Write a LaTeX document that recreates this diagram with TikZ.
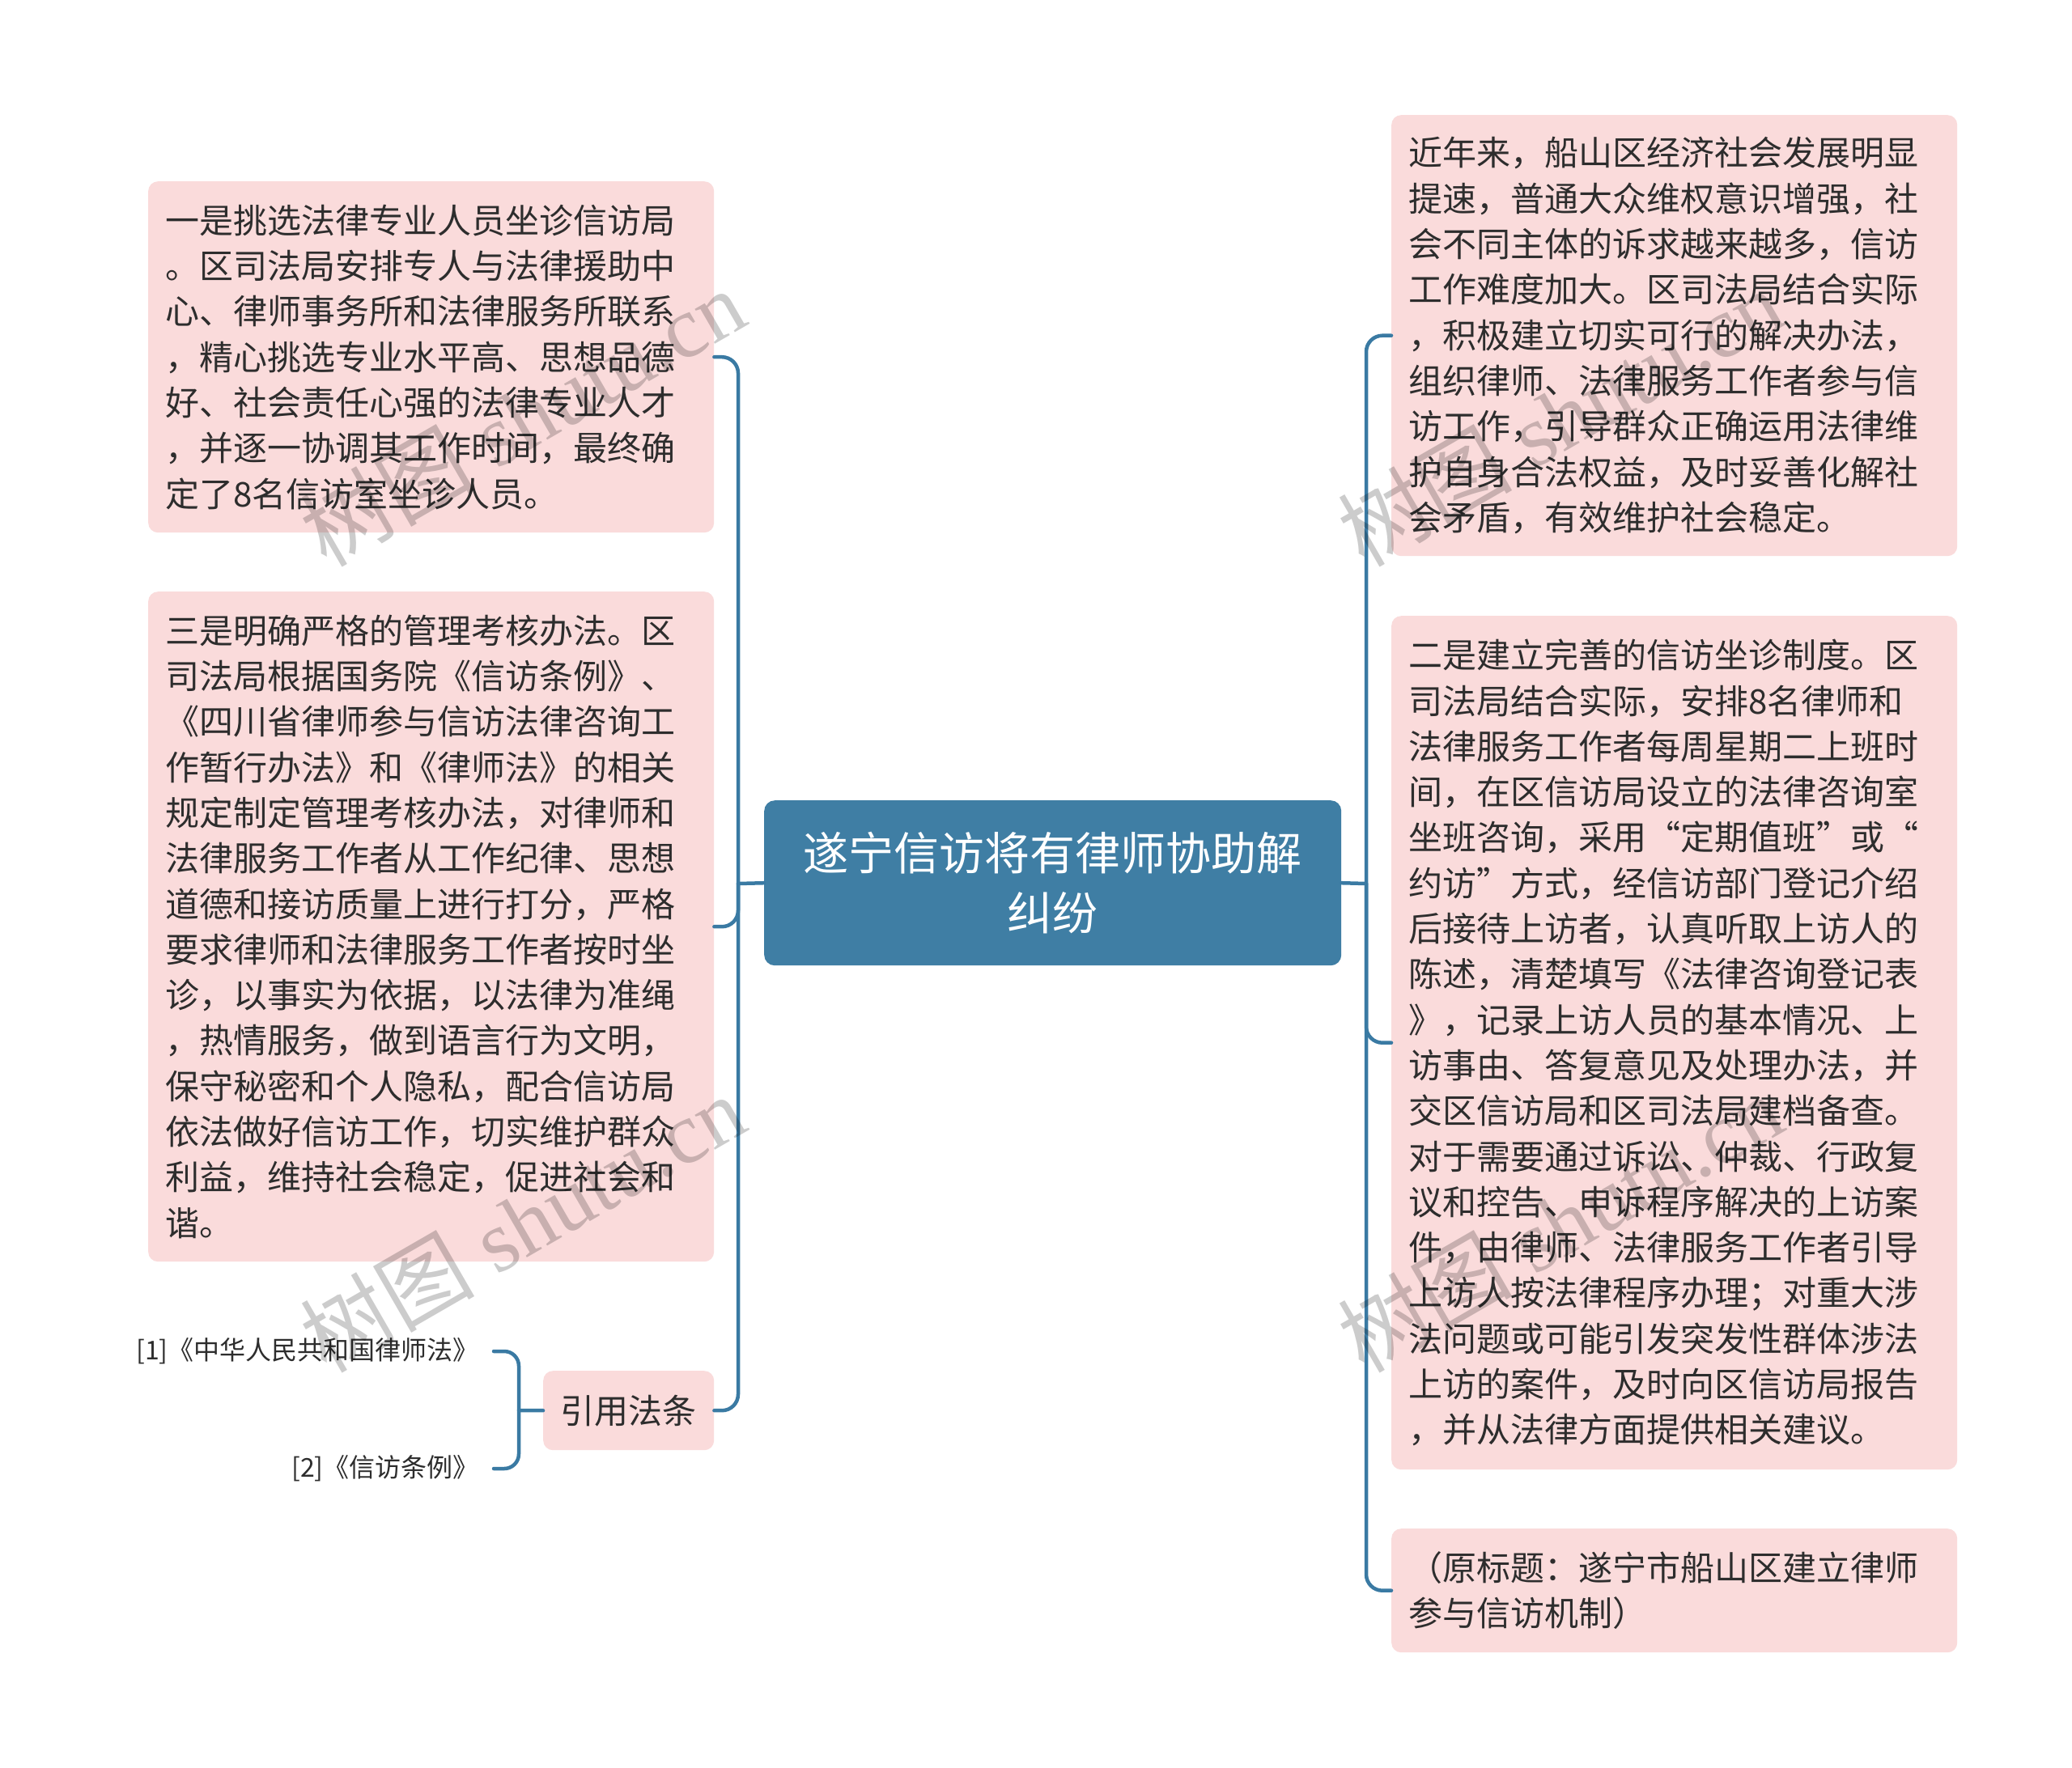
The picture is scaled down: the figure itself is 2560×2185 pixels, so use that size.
\documentclass[tikz,border=0pt]{standalone}
\usepackage{fontspec}
\setmainfont{Noto Sans CJK SC}
\newfontfamily\cjk{Noto Sans CJK SC}
\newfontfamily\wmlatin{Liberation Serif}
\definecolor{pinkfill}{RGB}{250,219,219}
\definecolor{bluefill}{RGB}{63,126,164}
\definecolor{connc}{RGB}{58,122,163}
\definecolor{textc}{RGB}{45,45,45}
\tikzset{
  leaf/.style={fill=pinkfill, draw=none, rounded corners=12pt, inner xsep=21pt, inner ysep=0pt,
    align=left, text=textc, anchor=north west, text width=657pt,
    font=\cjk\fontsize{42}{56.3}\selectfont},
  rootbox/.style={fill=bluefill, draw=none, rounded corners=13pt, inner sep=0pt, align=center,
    text=white, anchor=north west, minimum width=713pt, minimum height=204pt,
    font=\cjk\fontsize{56}{73.5}\selectfont},
  refbox/.style={fill=pinkfill, draw=none, rounded corners=12pt, inner sep=0pt, text=textc,
    anchor=north west, minimum width=211pt, minimum height=98pt,
    font=\cjk\fontsize{42}{56.3}\selectfont},
  cite/.style={anchor=east, inner xsep=18pt, inner ysep=0pt, text=textc,
    font=\cjk\fontsize{32}{40}\selectfont},
  conn/.style={draw=connc, line width=4.5pt, rounded corners=20pt, line cap=round},
  wm/.style={rotate=30, text=black, opacity=0.2, inner sep=0pt}
}
\newcommand{\wmtext}{\cjk\fontsize{108}{108}\selectfont 树图\wmlatin\ shutu.cn}
\begin{document}
\begin{tikzpicture}[x=1pt,y=-1pt]
\useasboundingbox (0,0) rectangle (2560,2185);
\fill[white] (0,0) rectangle (2560,2185);

% central
\node[rootbox] (c) at (944,989) {遂宁信访将有律师协助解\\纠纷};

% left side
\node[leaf, minimum height=434pt] (b1) at (183,224) {一是挑选法律专业人员坐诊信访局\\。区司法局安排专人与法律援助中\\心、律师事务所和法律服务所联系\\，精心挑选专业水平高、思想品德\\好、社会责任心强的法律专业人才\\，并逐一协调其工作时间，最终确\\定了8名信访室坐诊人员。};
\node[leaf, minimum height=828pt] (b2) at (183,731) {三是明确严格的管理考核办法。区\\司法局根据国务院《信访条例》、\\《四川省律师参与信访法律咨询工\\作暂行办法》和《律师法》的相关\\规定制定管理考核办法，对律师和\\法律服务工作者从工作纪律、思想\\道德和接访质量上进行打分，严格\\要求律师和法律服务工作者按时坐\\诊，以事实为依据，以法律为准绳\\，热情服务，做到语言行为文明，\\保守秘密和个人隐私，配合信访局\\依法做好信访工作，切实维护群众\\利益，维持社会稳定，促进社会和\\谐。};
\node[refbox] (ref) at (671,1694) {引用法条};
\node[cite] (l1) at (610,1670) {[1]《中华人民共和国律师法》};
\node[cite] (l2) at (610,1815) {[2]《信访条例》};

% right side
\node[leaf, minimum height=545pt] (r1) at (1719,142) {近年来，船山区经济社会发展明显\\提速，普通大众维权意识增强，社\\会不同主体的诉求越来越多，信访\\工作难度加大。区司法局结合实际\\，积极建立切实可行的解决办法，\\组织律师、法律服务工作者参与信\\访工作，引导群众正确运用法律维\\护自身合法权益，及时妥善化解社\\会矛盾，有效维护社会稳定。};
\node[leaf, minimum height=1055pt] (r2) at (1719,761) {二是建立完善的信访坐诊制度。区\\司法局结合实际，安排8名律师和\\法律服务工作者每周星期二上班时\\间，在区信访局设立的法律咨询室\\坐班咨询，采用“定期值班”或“\\约访”方式，经信访部门登记介绍\\后接待上访者，认真听取上访人的\\陈述，清楚填写《法律咨询登记表\\》，记录上访人员的基本情况、上\\访事由、答复意见及处理办法，并\\交区信访局和区司法局建档备查。\\对于需要通过诉讼、仲裁、行政复\\议和控告、申诉程序解决的上访案\\件，由律师、法律服务工作者引导\\上访人按法律程序办理；对重大涉\\法问题或可能引发突发性群体涉法\\上访的案件，及时向区信访局报告\\，并从法律方面提供相关建议。};
\node[leaf, minimum height=153pt] (r3) at (1719,1889) {（原标题：遂宁市船山区建立律师\\参与信访机制）};

% junction coordinates
\coordinate (L) at (912,1092);
\coordinate (R) at (1688,1092);
\coordinate (B) at (641,1743);

% connectors
\draw[conn] (c.west) -- (L);
\draw[conn] (b1.east) -| (L) |- (ref.east);
\draw[conn] (b2.east) -| (L);
\draw[conn] (c.east) -- (R);
\draw[conn] (r1.west) -| (R) |- (r3.west);
\draw[conn] (r2.west) -| (R);
\draw[conn, rounded corners=18pt] (ref.west) -- (B);
\draw[conn, rounded corners=18pt] (l1.east) -| (B) |- (l2.east);

% watermarks
\node[wm] (wm1) at (645,515) {\wmtext};
\node[wm] (wm2) at (645,1511) {\wmtext};
\node[wm] (wm3) at (1927,515) {\wmtext};
\node[wm] (wm4) at (1927,1511) {\wmtext};
\end{tikzpicture}
\end{document}
